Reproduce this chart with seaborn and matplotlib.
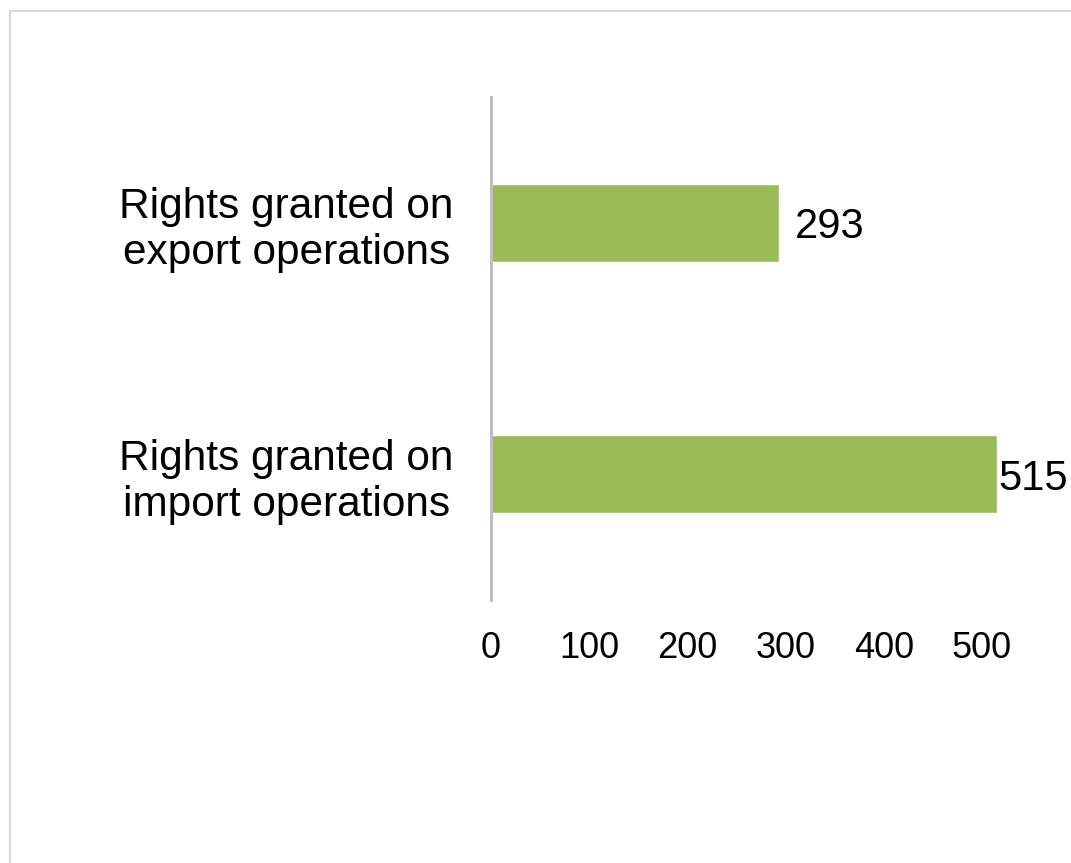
import matplotlib
matplotlib.use("Agg")
import matplotlib.pyplot as plt
import seaborn as sns
import pandas as pd
from matplotlib.patches import Rectangle

# data
categories = ["Rights granted on\nexport operations", "Rights granted on\nimport operations"]
values = [293, 515]
x_ticks = [0, 100, 200, 300, 400, 500]

BAR_COLOR = "#9BBB59"
AXIS_COLOR = "#BFBFBF"
BORDER_COLOR = "#D9D9D9"

sns.set_theme(style="white")
plt.rcParams['font.family'] = ['Liberation Sans', 'DejaVu Sans']

W, H = 1071, 863
fig = plt.figure(figsize=(W / 100, H / 100), dpi=100)

# axes placed in pixel terms of the reference
left, right, top, bottom = 491, 1031, 97, 600
ax = fig.add_axes([left / W, 1 - bottom / H, (right - left) / W, (bottom - top) / H])

df = pd.DataFrame({"category": categories, "value": values})
sns.barplot(data=df, x="value", y="category", orient="h", color=BAR_COLOR,
            width=0.31, saturation=1, ax=ax)

ax.set_xlim(0, 550)
ax.set_ylim(1.5, -0.5)
ax.set_xticks(x_ticks)
ax.set_xticklabels([str(t) for t in x_ticks], fontsize=26, color="black")
ax.set_yticks(range(len(categories)))
ax.set_yticklabels(categories, fontsize=30.5, color="black", ha="right",
                   multialignment="center", linespacing=1.2)
ax.tick_params(axis="x", length=0, pad=22)
ax.tick_params(axis="y", length=0, pad=27)
ax.set_xlabel("")
ax.set_ylabel("")

for side in ["top", "right", "bottom"]:
    ax.spines[side].set_visible(False)
ax.spines["left"].set_color(AXIS_COLOR)
ax.spines["left"].set_linewidth(2.2)
ax.patch.set_alpha(0)

# value labels, the last one sits tight against the chart edge
pads = [12, 1]
for bar, val, pad in zip(ax.patches, values, pads):
    ax.annotate(str(val), xy=(bar.get_x() + bar.get_width(), bar.get_y() + bar.get_height() / 2),
                xytext=(pad, 0), textcoords="offset points", ha="left", va="center_baseline",
                fontsize=30, color="black", annotation_clip=False)

# light chart-area border (cut off on the right and bottom)
fig.patches.append(Rectangle((10 / W, -0.1), 1.2, 1 - 11 / H + 0.1,
                             transform=fig.transFigure, fill=False,
                             edgecolor=BORDER_COLOR, linewidth=1.6))

fig.savefig("out.png", dpi=100, facecolor="white")
